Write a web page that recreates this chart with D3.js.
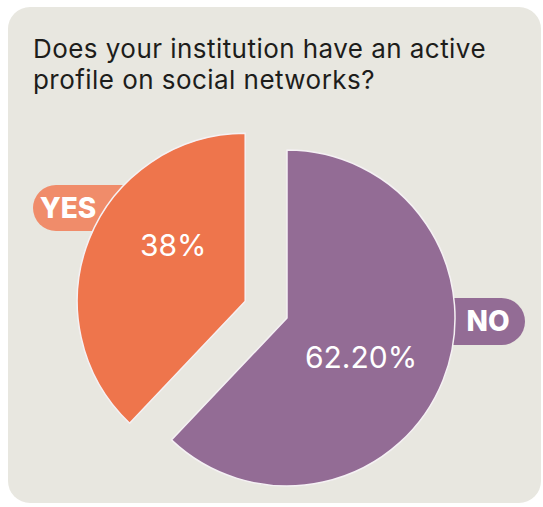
<!DOCTYPE html>
<html>
<head>
<meta charset="utf-8">
<script src="https://cdn.jsdelivr.net/npm/d3@7"></script>
<style>
  body { margin: 0; background: #ffffff; }
  svg { display: block; }
</style>
</head>
<body>
<div id="chart"></div>
<script>
const titleLines = ['Does your institution have an active', 'profile on social networks?'];
const answers = ['NO', 'YES'];
const shares = [62.2, 38];
const shareLabels = ['62.20%', '38%'];
const sliceColors = ['#936c95', '#ee754c'];
const pillColors = ['#936c95', '#f08c6a'];

const width = 543, height = 507;
const cx = 287, cy = 318, radius = 168;
const explode = [0, 45];
// small nudges so the value labels sit where the original put them
const labelNudge = [[-4, 8], [6, -25]];

const data = answers.map((a, i) => ({ answer: a, value: shares[i], label: shareLabels[i], i }));

const svg = d3.select('#chart')
  .append('svg')
  .attr('width', width)
  .attr('height', height);

svg.append('rect')
  .attr('x', 8).attr('y', 7)
  .attr('width', 533).attr('height', 496)
  .attr('rx', 22)
  .attr('fill', '#e8e7e0');

const title = svg.append('text')
  .attr('x', 33).attr('y', 58)
  .attr('font-family', 'Inter, sans-serif')
  .attr('font-size', 26)
  .attr('letter-spacing', 0.45)
  .attr('fill', '#1d1d1b');
title.selectAll('tspan')
  .data(titleLines)
  .join('tspan')
  .attr('x', 33)
  .attr('dy', (d, i) => i ? 31 : 0)
  .text(d => d);

const pie = d3.pie().sort(null).value(d => d.value);
const arcs = pie(data);
const arc = d3.arc().innerRadius(0).outerRadius(radius);
const labelArc = d3.arc().innerRadius(radius * 0.5).outerRadius(radius * 0.5);

function shift(d) {
  const m = (d.startAngle + d.endAngle) / 2;
  const e = explode[d.data.i];
  return [e * Math.sin(m), -e * Math.cos(m)];
}

const g = svg.append('g').attr('transform', `translate(${cx},${cy})`);

// answer pills, drawn under the slices
const pills = [
  { i: 1, x: 33 - cx, y: 185 - cy, w: 130, h: 46, tx: 68 - cx },
  { i: 0, x: 410 - cx, y: 298 - cy, w: 115, h: 47, tx: 488 - cx }
];
const pill = g.selectAll('g.pill')
  .data(pills)
  .join('g')
  .attr('class', 'pill');
pill.append('rect')
  .attr('x', d => d.x).attr('y', d => d.y)
  .attr('width', d => d.w).attr('height', d => d.h)
  .attr('rx', d => d.h / 2)
  .attr('fill', d => pillColors[d.i]);
pill.append('text')
  .attr('x', d => d.tx)
  .attr('y', d => d.y + d.h / 2)
  .attr('dy', '0.35em')
  .attr('text-anchor', 'middle')
  .attr('font-family', 'Inter, sans-serif')
  .attr('font-weight', 800)
  .attr('font-size', 28)
  .attr('fill', '#ffffff')
  .text(d => answers[d.i]);

const slice = g.selectAll('g.slice')
  .data(arcs)
  .join('g')
  .attr('class', 'slice')
  .attr('transform', d => `translate(${shift(d)})`);

slice.append('path')
  .attr('d', arc)
  .attr('fill', d => sliceColors[d.data.i])
  .attr('stroke', '#f5f1f4')
  .attr('stroke-width', 1.5)
  .attr('stroke-linejoin', 'round');

slice.append('text')
  .attr('transform', d => {
    const c = labelArc.centroid(d);
    const n = labelNudge[d.data.i];
    return `translate(${c[0] + n[0]},${c[1] + n[1]})`;
  })
  .attr('dy', '0.35em')
  .attr('text-anchor', 'middle')
  .attr('font-family', 'Inter, sans-serif')
  .attr('font-size', 30)
  .attr('fill', '#ffffff')
  .text(d => d.data.label);
</script>
</body>
</html>
